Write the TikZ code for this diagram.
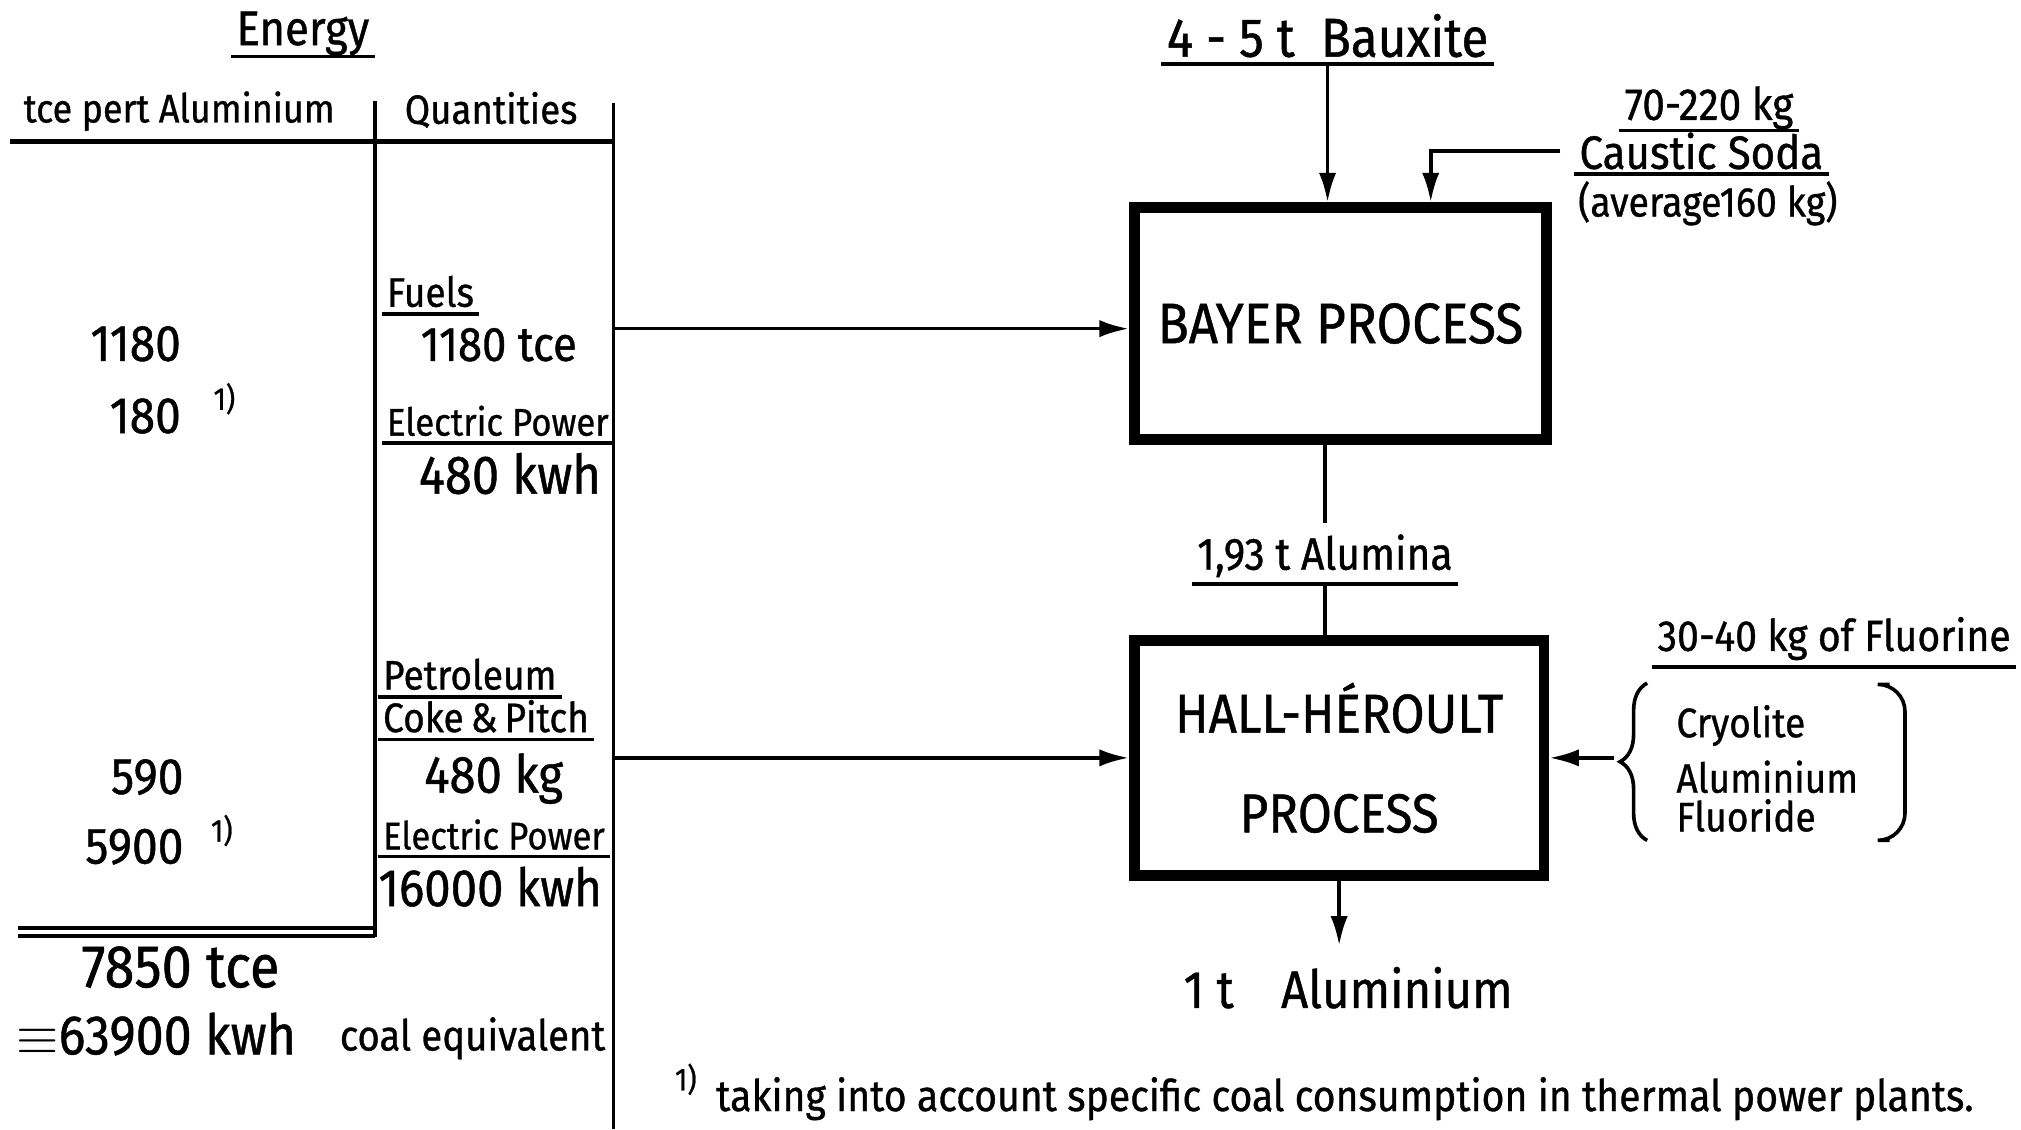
\documentclass[tikz,border=0pt]{standalone}
\usepackage{fontspec}
\setmainfont[FakeStretch=0.9, FakeBold=0.8]{Fira Sans}
\usetikzlibrary{arrows.meta,decorations.pathreplacing}
\newcommand{\fsz}[1]{\fontsize{#1}{#1}\selectfont}
\tikzset{
  txt/.style={inner sep=0pt, anchor=base},
  ul/.style={inner xsep=1pt, inner ysep=#1,
    append after command={(\tikzlastnode.south west) edge[thick] (\tikzlastnode.south east)}},
  ul/.default=1.3pt,
  procbox/.style={draw, line width=2.4pt, minimum width=3.196cm, minimum height=1.796cm},
  flow/.style={thick, -{Latex[length=6.5pt,width=3.8pt]}},
}
\begin{document}
\begin{tikzpicture}[x=0.01cm, y=-0.01cm]
  \useasboundingbox (0,0) rectangle (1568,876);
  % energy table
  \node[txt, font=\fsz{10.7}, ul=0pt] (energy) at (235,35) {Energy};
  \node[txt, font=\fsz{8.8}] (tcehead) at (139,95) {tce pert Aluminium};
  \node[txt, font=\fsz{9}] (qhead) at (381,96) {Quantities};
  \draw[line width=1.2pt] (8,110) -- (476,110);
  \draw[thick] (291,78) -- (291,727);
  \draw[thick] (476,80) -- (476,876);
  \draw[thick] (14,720) -- (291,720) (14,726) -- (291,726); % sum line
  \node[txt, anchor=base west, font=\fsz{9.1}, ul] (fuels) at (296,238) {Fuels};
  \node[txt, font=\fsz{10.7}] (fuelq) at (387,280) {1180 tce};
  \node[txt, anchor=base west, font=\fsz{8.5}, ul] (elec1) at (296,338) {Electric Power};
  \node[txt, anchor=base east, font=\fsz{12}] (elecq1) at (467,383) {480 kwh};
  \node[txt, anchor=base west, font=\fsz{9.1}, ul] (petro) at (293,535) {Petroleum};
  \node[txt, anchor=base west, font=\fsz{9.1}, ul] (coke) at (293,568) {Coke\,\&\,Pitch};
  \node[txt, font=\fsz{11.6}] (cokeq) at (383,615) {480 kg};
  \node[txt, anchor=base west, font=\fsz{8.5}, ul] (elec2) at (293,659) {Electric Power};
  \node[txt, anchor=base west, font=\fsz{11.6}] (elecq2) at (293,703) {16000 kwh};
  \foreach \nm/\val/\xx/\yy in {fa/1180/141/280, fb/180/141/336, ca/590/143/616, cb/5900/143/670}
    \node[txt, anchor=base east, font=\fsz{11.3}] (\nm) at (\xx,\yy) {\val};
  \node[txt, anchor=base west, font=\fsz{7}] (fnb) at (165,318) {1)};
  \node[txt, anchor=base west, font=\fsz{7}] (fnc) at (163,653) {1)};
  \node[txt, font=\fsz{13.3}] (total) at (140,766) {7850 tce};
  \node[txt, anchor=base west, font=\fsz{12.3}] (totalkwh) at (12,818) {$\equiv$63900 kwh};
  \node[txt, anchor=base west, font=\fsz{9.4}] (coaleq) at (263,815) {coal equivalent};
  \node[txt, anchor=base west, font=\fsz{7}] (fnmark) at (523,846) {1)};
  \node[txt, anchor=base west, font=\fsz{9.6}] (fntext) at (555,862) {taking into account specific coal consumption in thermal power plants.};
  % process chain
  \node[procbox, font=\fsz{12.6}] (bayer) at (1040,251) {BAYER PROCESS};
  \node[procbox, minimum width=3.176cm, minimum height=1.826cm, align=center,
    font=\fontsize{12.1}{22}\selectfont] (hall) at (1039,588) {HALL-HÉROULT\\PROCESS};
  \node[txt, font=\fsz{12.1}, ul] (bauxite) at (1030,44) {4 - 5 t\ \ Bauxite};
  \node[txt, font=\fsz{9.9}, ul=0pt] (sodaamt) at (1326,93) {70-220 kg};
  \node[txt, font=\fsz{10.3}, ul=0.8pt] (soda) at (1320,131) {Caustic Soda};
  \node[txt, font=\fsz{9.2}] (sodaavg) at (1325,168) {(average160 kg)};
  \node[txt, font=\fsz{10}, ul] (alumina) at (1028,442) {1,93 t Alumina};
  \node[txt, font=\fsz{11.6}] (product) at (1046,782) {1 t\hspace{0.9em}Aluminium};
  \node[txt, font=\fsz{9.6}, ul] (fluorine) at (1423,505) {30-40 kg of Fluorine};
  \node[txt, anchor=base west, font=\fsz{9.1}] (cryo) at (1300,572) {Cryolite};
  \node[txt, anchor=base west, font=\fsz{9.1}] (alu) at (1300,615) {Aluminium};
  \node[txt, anchor=base west, font=\fsz{9.1}] (fluor) at (1300,645) {Fluoride};
  \draw[thick, decorate, decoration={brace, amplitude=6pt}] (1278,652) -- (1278,530);
  \draw[thick, rounded corners=6pt] (1466,531) -- (1478,531) -- (1478,652) -- (1466,652);
  % flows
  \coordinate (fuelout) at (476,255);
  \coordinate (cokeout) at (476,588);
  \coordinate (brtip) at (1252,588);
  \draw[flow] (fuelout) -- (fuelout -| bayer.west);
  \draw[flow] (cokeout) -- (cokeout -| hall.west);
  \draw[flow] (bauxite.south) -- (bauxite.south |- bayer.north);
  \draw[flow] ([xshift=-3pt]soda.west) -| ([xshift=0.7cm]bayer.north);
  \draw[thick] (alumina.north |- bayer.south) -- ([yshift=1pt]alumina.north);
  \draw[thick] (alumina.south) -- (alumina.south |- hall.north);
  \draw[flow] (brtip) -- (brtip -| hall.east);
  \draw[flow] (hall.south) -- ([yshift=4.5pt]hall.south |- product.north);
\end{tikzpicture}
\end{document}
